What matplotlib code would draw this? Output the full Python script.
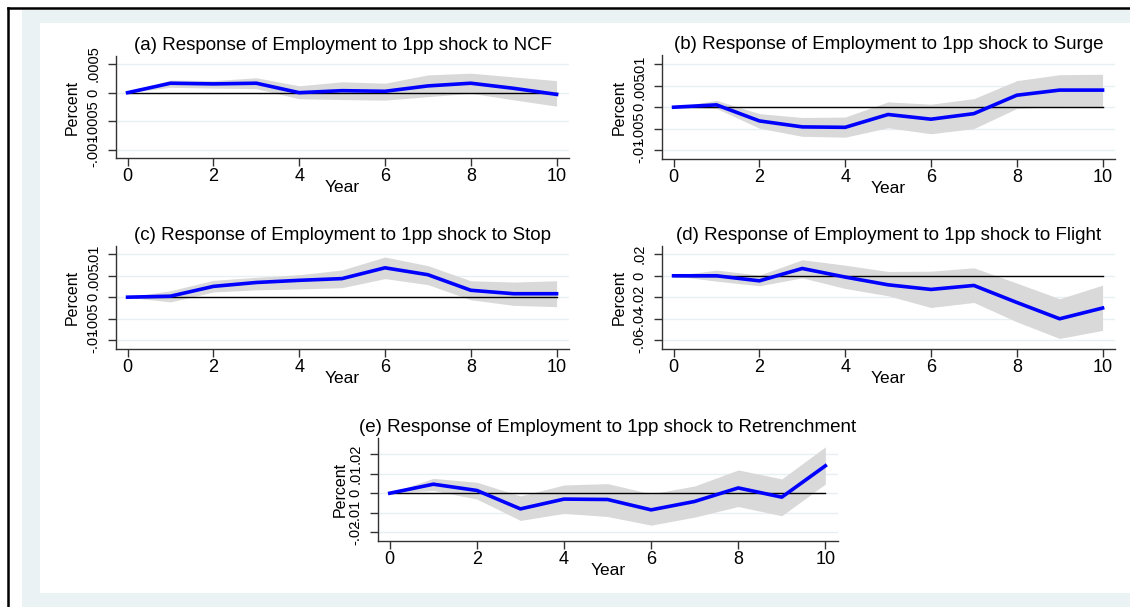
import matplotlib
matplotlib.use("Agg")
import matplotlib.pyplot as plt
from matplotlib.patches import Rectangle
from matplotlib.lines import Line2D

plt.rcParams['font.family'] = ['Liberation Sans', 'DejaVu Sans']

# Data: impulse responses with confidence bands
years = list(range(11))

ncf_irf = [0, .000165, .000153, .000165, 0, .000035, .000024, .000118, .000165, .000076, -.00003]
ncf_hi = [0, .00022, .00021, .00026, .00012, .00019, .000165, .00031, .00034, .000275, .00021]
ncf_lo = [0, .000094, .00008, .00007, -.000106, -.00012, -.00013, -.00007, -.00001, -.000125, -.000235]

surge_irf = [0, .00055, -.0032, -.0046, -.0047, -.0017, -.0028, -.0015, .0028, .004, .004]
surge_hi = [0, .0016, -.0015, -.0024, -.0023, .00125, .0007, .002, .0062, .0076, .0077]
surge_lo = [0, -.0003, -.0049, -.0068, -.007, -.0048, -.0062, -.005, -.0003, .0002, .0002]

stop_irf = [0, .00023, .0025, .0034, .0039, .0043, .0068, .0052, .0016, .0008, .0008]
stop_hi = [0, .0015, .0039, .0046, .0052, .0063, .0093, .0073, .0038, .0035, .0038]
stop_lo = [0, -.0011, .0012, .0017, .0019, .0022, .0043, .0029, -.0006, -.0019, -.0022]

flight_irf = [0, 0, -.0047, .0068, -.0012, -.0084, -.0127, -.009, -.0248, -.04, -.030]
flight_hi = [0, .0053, .0006, .0149, .0099, .004, .0043, .0074, -.0068, -.0214, -.0087]
flight_lo = [0, -.005, -.0093, -.0019, -.0118, -.0186, -.0295, -.0248, -.0428, -.0583, -.0508]

retr_irf = [0, .0046, .0014, -.008, -.003, -.0032, -.0085, -.0042, .0027, -.002, .014]
retr_hi = [0, .0076, .0056, -.0014, .0042, .0049, -.0003, .0037, .0119, .0073, .0237]
retr_lo = [0, .0014, -.003, -.0139, -.0103, -.0119, -.0163, -.0122, -.0068, -.0115, .0047]

titles = [
    "(a) Response of Employment to 1pp shock to NCF",
    "(b) Response of Employment to 1pp shock to Surge",
    "(c) Response of Employment to 1pp shock to Stop",
    "(d) Response of Employment to 1pp shock to Flight",
    "(e) Response of Employment to 1pp shock to Retrenchment",
]
yticks = [
    [-.001, -.0005, 0, .0005],
    [-.01, -.005, 0, .005, .01],
    [-.01, -.005, 0, .005, .01],
    [-.06, -.04, -.02, 0, .02],
    [-.02, -.01, 0, .01, .02],
]
ylims = [(-.00114, .00064), (-.0121, .0122), (-.012, .01185), (-.0681, .0277), (-.0244, .0282)]
xticks = [0, 2, 4, 6, 8, 10]

W, H = 1130, 607
# axes boxes in pixels: left, right, top, bottom
boxes = [(116, 569, 56, 158), (662, 1115, 55, 159), (116, 569, 246, 349),
         (662, 1115, 246, 349), (378, 838, 438, 541)]
ylab_x = [-0.097, -0.095, -0.097, -0.095, -0.081]


def stata_fmt(v):
    if v == 0:
        return "0"
    s = ("%.4f" % v).rstrip("0")
    return s.replace("0.", ".")


fig = plt.figure(figsize=(W / 100, H / 100), dpi=100, facecolor='white')


def frac_rect(x0, y0, x1, y1, color):
    fig.patches.append(Rectangle((x0 / W, 1 - y1 / H), (x1 - x0) / W, (y1 - y0) / H,
                                 transform=fig.transFigure, color=color, zorder=-10, lw=0))


frac_rect(22, 10, W, H, '#eaf2f3')
frac_rect(40, 23, W, 593, 'white')
fig.lines.append(Line2D([8 / W, 1], [1 - 8 / H, 1 - 8 / H], transform=fig.transFigure, color='black', lw=1.8))
fig.lines.append(Line2D([8 / W, 8 / W], [0, 1 - 8 / H], transform=fig.transFigure, color='black', lw=1.8))

series = [(ncf_irf, ncf_lo, ncf_hi), (surge_irf, surge_lo, surge_hi), (stop_irf, stop_lo, stop_hi),
          (flight_irf, flight_lo, flight_hi), (retr_irf, retr_lo, retr_hi)]

for i, (irf, lo, hi) in enumerate(series):
    l, r, t, b = boxes[i]
    ax = fig.add_axes([l / W, 1 - b / H, (r - l) / W, (b - t) / H])
    ax.patch.set_alpha(0)
    ax.set_xlim(-0.27, 10.29)
    ax.set_ylim(*ylims[i])
    for yt in yticks[i]:
        ax.axhline(yt, color='#e6eff1', lw=1, zorder=0)
    ax.fill_between(years, lo, hi, color='#d9d9d9', lw=0, zorder=1)
    ax.plot([0, 10], [0, 0], color='black', lw=1, zorder=2)
    ax.plot(years, irf, color='#0000ff', lw=2.6, zorder=3)

    ax.set_xticks(xticks)
    ax.set_yticks(yticks[i])
    ax.set_yticklabels([stata_fmt(v) for v in yticks[i]], rotation=90, va='center')
    ax.tick_params(direction='out', length=6, width=1, color='#333333')
    ax.tick_params(axis='x', labelsize=13, pad=1.5)
    ax.tick_params(axis='y', labelsize=10.5, pad=5)
    for s in ['top', 'right']:
        ax.spines[s].set_visible(False)
    for s in ['left', 'bottom']:
        ax.spines[s].set_color('#333333')
        ax.spines[s].set_linewidth(1)
    ax.set_title(titles[i], fontsize=13.5, pad=4.5)
    ax.set_xlabel("Year", fontsize=12.5)
    ax.xaxis.set_label_coords(0.5, -0.215)
    ax.set_ylabel("Percent", fontsize=11.5, va='center')
    ax.yaxis.set_label_coords(ylab_x[i], 0.5)

fig.savefig("out.png", dpi=100, facecolor='white')
